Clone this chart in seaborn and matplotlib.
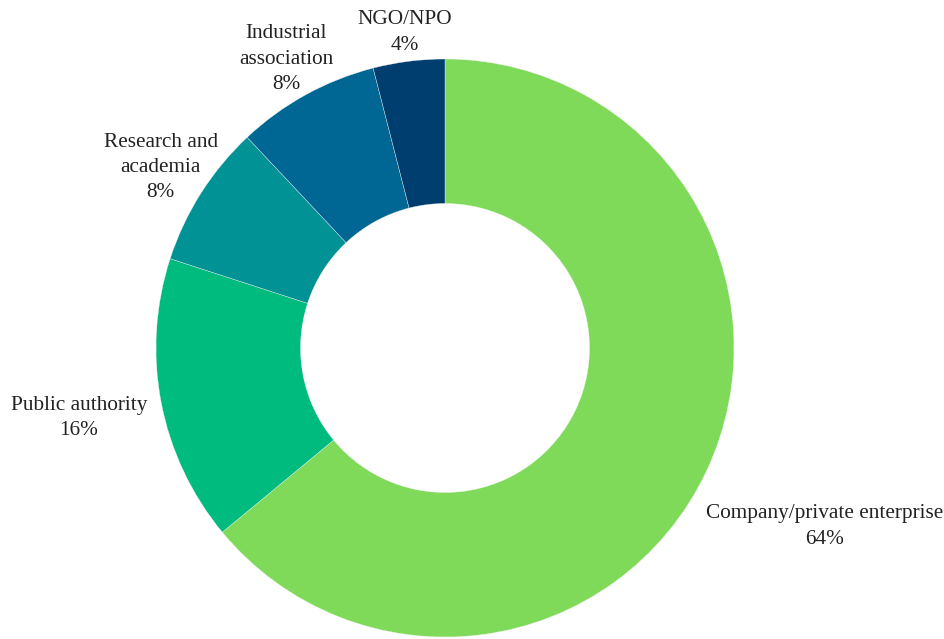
import numpy as np
import matplotlib
matplotlib.use("Agg")
import matplotlib.pyplot as plt
import seaborn as sns

# Share of respondents by organisation type
categories = ["Company/private enterprise", "Public authority", "Research and\nacademia",
              "Industrial\nassociation", "NGO/NPO"]
shares = [64, 16, 8, 8, 4]
colors = ["#80DA5A", "#00BB7E", "#009294", "#006794", "#003E70"]

sns.set_theme(style="white")
plt.rcParams["font.family"] = ["Liberation Serif", "DejaVu Serif"]

fig = plt.figure(figsize=(9.44, 6.39), dpi=100)
ax = fig.add_axes([0, 0, 1, 1])

wedges, _ = ax.pie(
    shares,
    colors=colors,
    startangle=90,
    counterclock=False,
    radius=1.0,
    wedgeprops=dict(width=0.5, edgecolor="#f4f4f4", linewidth=0.25),
)

# Label distance from the centre (in units of the outer radius)
label_dist = [1.45, 1.29, 1.165, 1.14, 1.10]
for w, name, val, d in zip(wedges, categories, shares, label_dist):
    mid = np.deg2rad((w.theta1 + w.theta2) / 2)
    ax.text(d * np.cos(mid), d * np.sin(mid), f"{name}\n{val}%",
            ha="center", va="center", fontsize=15.3, color="#222222",
            linespacing=1.45)

# Place the ring so that it sits slightly left of centre, touching the bottom edge
scale = 289.0
cx, cy = 445.0, 639.0 - 348.0
ax.set_aspect("auto")
ax.set_xlim(-cx / scale, (944 - cx) / scale)
ax.set_ylim(-cy / scale, (639 - cy) / scale)
ax.axis("off")

fig.savefig("out.png", dpi=100, facecolor="white")
